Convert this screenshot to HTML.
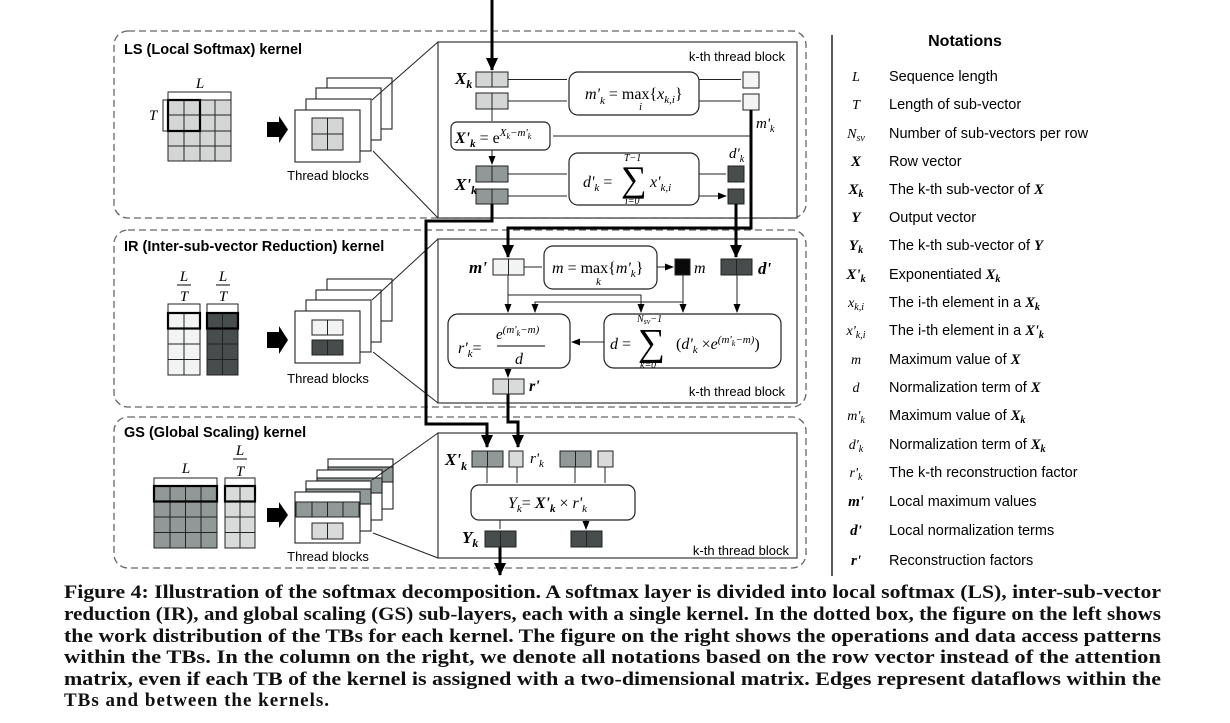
<!DOCTYPE html>
<html><head><meta charset="utf-8"><style>
html,body{margin:0;padding:0;background:#fff;}
svg{display:block;}
.s{font-family:"Liberation Sans",sans-serif;}
.m{font-family:"Liberation Serif",serif;font-style:italic;}
.b{font-weight:bold;}
</style></head><body>
<svg width="1230" height="723" viewBox="0 0 1230 723" xmlns="http://www.w3.org/2000/svg">
<defs>
<marker id="a" markerWidth="9" markerHeight="9" refX="8" refY="4.5" orient="auto" markerUnits="userSpaceOnUse"><path d="M0,1 L9,4.5 L0,8 Z" fill="#000"/></marker>
<marker id="A" markerWidth="14" markerHeight="14" refX="12" refY="7" orient="auto" markerUnits="userSpaceOnUse"><path d="M0,1 L13,7 L0,13 Z" fill="#000"/></marker>
</defs>
<g fill="none" stroke="#666" stroke-width="1.3" stroke-dasharray="7,4">
<rect x="114" y="31" width="692" height="187" rx="14"/>
<rect x="114" y="230" width="692" height="177" rx="14"/>
<rect x="114" y="417" width="692" height="151" rx="14"/>
</g>
<g class="s b" font-size="14.5" fill="#000">
<text x="124" y="54">LS (Local Softmax) kernel</text>
<text x="124" y="251">IR (Inter-sub-vector Reduction) kernel</text>
<text x="124" y="437">GS (Global Scaling) kernel</text>
</g>
<g fill="#fff" stroke="#444" stroke-width="1.3">
<rect x="438" y="42" width="359" height="176"/>
<rect x="438" y="239" width="359" height="164"/>
<rect x="438" y="433" width="359" height="125"/>
</g>
<g class="s" font-size="13" fill="#000">
<text x="785" y="61" text-anchor="end">k-th thread block</text>
<text x="785" y="396" text-anchor="end">k-th thread block</text>
<text x="789" y="555" text-anchor="end">k-th thread block</text>
<text x="328" y="180" text-anchor="middle">Thread blocks</text>
<text x="328" y="383" text-anchor="middle">Thread blocks</text>
<text x="328" y="561" text-anchor="middle">Thread blocks</text>
</g>

<!-- LS left -->
<g stroke="#222" stroke-width="1">
<rect x="168" y="100" width="63" height="61" fill="#d4d6d6"/>
<path d="M184,100V161M200,100V161M215,100V161M168,115H231M168,131H231M168,146H231"/>
</g>
<rect x="168" y="100" width="32" height="31" fill="none" stroke="#000" stroke-width="2.2"/>
<path d="M168,100V92H231V100M168,100H163V131H168" fill="none" stroke="#222"/>
<text x="200" y="88" class="m" font-size="15" text-anchor="middle">L</text>
<text x="153" y="120" class="m" font-size="15" text-anchor="middle">T</text>
<path d="M267,122h12v-6l9,13.5-9,13.5v-6h-12z" fill="#000"/>
<g stroke="#222" stroke-width="1.1" fill="#fff">
<rect x="327" y="78" width="65" height="51"/>
<rect x="316" y="88" width="65" height="52"/>
<rect x="306" y="99" width="65" height="52"/>
<rect x="295" y="110" width="65" height="52"/>
</g>
<g stroke="#222" stroke-width="1"><rect x="312" y="118" width="31" height="32" fill="#d4d6d6"/><path d="M327.5,118V150M312,134H343"/></g>
<path d="M372,100L438,42M373,151L438,218" stroke="#222" stroke-width="1"/>

<!-- IR left -->
<path d="M168,313V304H200V313M207,313V304H238V313" fill="none" stroke="#222"/>
<g class="m" font-size="15" text-anchor="middle"><text x="184" y="281">L</text><text x="184" y="301">T</text><text x="223" y="281">L</text><text x="223" y="301">T</text></g>
<path d="M177,285h14M216,285h14" stroke="#000"/>
<g stroke="#222" stroke-width="1">
<rect x="168" y="313" width="32" height="62" fill="#f2f3f3"/><path d="M184,313V375M168,328.5H200M168,344H200M168,359.5H200"/>
<rect x="207" y="313" width="31" height="62" fill="#474c4c"/><path d="M222.5,313V375M207,328.5H238M207,344H238M207,359.5H238"/>
</g>
<rect x="168" y="313" width="32" height="15.5" fill="none" stroke="#000" stroke-width="2.2"/>
<rect x="207" y="313" width="31" height="15.5" fill="none" stroke="#000" stroke-width="2.2"/>
<path d="M267,332h12v-6l9,14-9,14v-6h-12z" fill="#000"/>
<g stroke="#222" stroke-width="1.1" fill="#fff">
<rect x="327" y="279" width="65" height="42"/>
<rect x="316" y="290" width="65" height="52"/>
<rect x="306" y="300" width="65" height="52"/>
<rect x="295" y="311" width="65" height="52"/>
</g>
<g stroke="#222" stroke-width="1">
<rect x="312" y="320" width="31" height="15" fill="#f2f3f3"/><path d="M327.5,320V335"/>
<rect x="312" y="340" width="31" height="15" fill="#474c4c"/><path d="M327.5,340V355"/>
</g>
<path d="M372,300L438,239M373,352L438,403" stroke="#222" stroke-width="1"/>

<!-- GS left -->
<path d="M154,486V478H217V486M225,486V478H255V486" fill="none" stroke="#222"/>
<text x="186" y="473" class="m" font-size="15" text-anchor="middle">L</text>
<g class="m" font-size="15" text-anchor="middle"><text x="240" y="455">L</text><text x="240" y="476">T</text></g>
<path d="M233,459h14" stroke="#000"/>
<g stroke="#222" stroke-width="1">
<rect x="154" y="486" width="63" height="62" fill="#919898"/><path d="M170,486V548M185.5,486V548M201,486V548M154,501.5H217M154,517H217M154,532.5H217"/>
<rect x="225" y="486" width="30" height="62" fill="#d9dbdb"/><path d="M240,486V548M225,501.5H255M225,517H255M225,532.5H255"/>
</g>
<rect x="154" y="486" width="63" height="15.5" fill="none" stroke="#000" stroke-width="2.2"/>
<rect x="225" y="486" width="30" height="15.5" fill="none" stroke="#000" stroke-width="2.2"/>
<path d="M267,508h12v-6l9,13-9,13v-6h-12z" fill="#000"/>
<g stroke="#222" stroke-width="1.1">
<rect x="328" y="459" width="65" height="50" fill="#fff"/><rect x="328" y="467" width="65" height="15" fill="#919898"/>
<rect x="317" y="470" width="65" height="50" fill="#fff"/><rect x="317" y="478" width="65" height="15" fill="#919898"/>
<rect x="306" y="481" width="65" height="50" fill="#fff"/><rect x="306" y="489" width="65" height="15" fill="#919898"/>
<rect x="295" y="492" width="65" height="51" fill="#fff"/>
</g>
<g stroke="#222" stroke-width="1">
<rect x="296" y="502" width="63" height="15" fill="#919898"/><path d="M312,502V517M327.5,502V517M343,502V517"/>
<rect x="312" y="523" width="31" height="16" fill="#d9dbdb"/><path d="M327.5,523V539"/>
</g>
<path d="M372,480L438,433M373,533L438,558" stroke="#222" stroke-width="1"/>

<!-- LS inner -->
<g stroke="#222" stroke-width="1">
<rect x="476" y="72" width="32" height="15" fill="#d4d6d6"/><path d="M492,72V87"/>
<rect x="476" y="93" width="32" height="16" fill="#d4d6d6"/><path d="M492,93V109"/>
<rect x="476" y="166" width="32" height="16" fill="#919898"/><path d="M492,166V182"/>
<rect x="476" y="189" width="32" height="15" fill="#919898"/><path d="M492,189V204"/>
<rect x="743" y="72" width="16" height="16" fill="#f4f4f4"/>
<rect x="743" y="94" width="16" height="16" fill="#f4f4f4"/>
<rect x="728" y="166" width="16" height="16" fill="#474c4c"/>
<rect x="728" y="189" width="16" height="15" fill="#474c4c"/>
</g>
<g fill="#fff" stroke="#222" stroke-width="1.2">
<rect x="569" y="72" width="130" height="43" rx="9"/>
<rect x="451" y="122" width="99" height="28" rx="6"/>
<rect x="569" y="153" width="130" height="52" rx="9"/>
</g>
<g stroke="#222" stroke-width="1" marker-end="url(#a)">
<path d="M508,79.5H567M508,101H567M699,79.5H741M699,101H741M508,174H567M508,196H567M699,174H726M699,196H726"/>
<path d="M751,136H553M492,109V121M492,150V164"/>
</g>
<path d="M492,0V70" stroke="#000" stroke-width="3" marker-end="url(#A)"/>
<g class="m" fill="#000">
<text x="455" y="84" font-size="17" class="b">X<tspan font-size="12" dy="4">k</tspan></text>
<text x="455" y="190" font-size="17" class="b">X'<tspan font-size="12" dy="4">k</tspan></text>
<text x="585" y="99" font-size="16">m'<tspan font-size="11" dy="5">k</tspan><tspan dy="-5" font-style="normal"> = max{</tspan>x<tspan font-size="11" dy="4">k,i</tspan><tspan dy="-4" font-style="normal">}</tspan></text>
<text x="639" y="110" font-size="11">i</text>
<text x="756" y="128" font-size="15">m'<tspan font-size="10" dy="4">k</tspan></text>
<text x="455" y="143" font-size="16"><tspan class="b">X'</tspan><tspan font-size="11" dy="4" class="b">k</tspan><tspan dy="-4" font-style="normal"> = e</tspan><tspan font-size="11" dy="-7">X</tspan><tspan font-size="8" dy="3">k</tspan><tspan font-size="11" dy="-3">−m'</tspan><tspan font-size="8" dy="3">k</tspan></text>
<text x="583" y="187" font-size="16">d'<tspan font-size="11" dy="4">k</tspan><tspan dy="-4" font-style="normal"> = </tspan></text>
<text x="621" y="191" font-size="36" font-style="normal">∑</text>
<text x="624" y="161" font-size="10">T−1</text>
<text x="625" y="204" font-size="10">i=0</text>
<text x="650" y="187" font-size="16">x'<tspan font-size="11" dy="4">k,i</tspan></text>
<text x="729" y="158" font-size="15">d'<tspan font-size="10" dy="4">k</tspan></text>
</g>

<!-- thick connectors -->
<g fill="none" stroke="#000" stroke-width="3">
<path d="M492,204V221H426V424H487V447" marker-end="url(#A)"/>
<path d="M751,110V228H508V257" marker-end="url(#A)"/>
<path d="M736,204V257" marker-end="url(#A)"/>
<path d="M508,394V422H518V447" marker-end="url(#A)"/>
<path d="M500,547V575" marker-end="url(#A)"/>
</g>

<!-- IR inner -->
<g stroke="#222" stroke-width="1">
<rect x="493" y="259" width="31" height="16" fill="#f2f3f3"/><path d="M508.5,259V275"/>
<rect x="675" y="259" width="15" height="16" fill="#0a0a0a"/>
<rect x="721" y="259" width="31" height="16" fill="#474c4c"/><path d="M736.5,259V275"/>
<rect x="493" y="379" width="31" height="15" fill="#d9dbdb"/><path d="M508.5,379V394"/>
</g>
<g fill="#fff" stroke="#222" stroke-width="1.2">
<rect x="544" y="246" width="113" height="43" rx="9"/>
<rect x="448" y="314" width="122" height="54" rx="10"/>
<rect x="604" y="314" width="177" height="54" rx="10"/>
</g>
<g stroke="#222" stroke-width="1" fill="none" marker-end="url(#a)">
<path d="M524,267H542M657,267H673"/>
<path d="M508,275V312"/>
<path d="M508,295H641V312"/>
<path d="M683,275V312"/>
<path d="M683,302H535V312"/>
<path d="M737,275V312"/>
<path d="M604,342H572"/>
<path d="M508,368V377"/>
</g>
<g class="m" fill="#000">
<text x="469" y="273" font-size="17" class="b">m'</text>
<text x="552" y="273" font-size="16">m<tspan font-style="normal"> = max{</tspan>m'<tspan font-size="11" dy="4">k</tspan><tspan dy="-4" font-style="normal">}</tspan></text>
<text x="596" y="285" font-size="11">k</text>
<text x="694" y="273" font-size="16">m</text>
<text x="758" y="274" font-size="17" class="b">d'</text>
<text x="458" y="353" font-size="16">r'<tspan font-size="11" dy="4">k</tspan><tspan dy="-4" font-style="normal">=</tspan></text>
<text x="496" y="339" font-size="15">e<tspan font-size="11" dy="-6">(m'</tspan><tspan font-size="8" dy="3">k</tspan><tspan font-size="11" dy="-3">−m)</tspan></text>
<path d="M497,346H545" stroke="#000" stroke-width="1"/>
<text x="515" y="364" font-size="16">d</text>
<text x="610" y="349" font-size="16">d<tspan font-style="normal"> = </tspan></text>
<text x="638" y="355" font-size="38" font-style="normal">∑</text>
<text x="637" y="322" font-size="10">N<tspan font-size="8" dy="2">sv</tspan><tspan dy="-2">−1</tspan></text>
<text x="640" y="368" font-size="10">k=0</text>
<text x="676" y="349" font-size="16"><tspan font-style="normal">(</tspan>d'<tspan font-size="11" dy="4">k</tspan><tspan dy="-4" font-style="normal"> ×</tspan>e<tspan font-size="11" dy="-6">(m'</tspan><tspan font-size="8" dy="3">k</tspan><tspan font-size="11" dy="-3">−m)</tspan><tspan dy="6" font-style="normal">)</tspan></text>
<text x="529" y="391" font-size="16" class="b">r'</text>
</g>

<!-- GS inner -->
<g stroke="#222" stroke-width="1">
<rect x="472" y="451" width="31" height="16" fill="#919898"/><path d="M487.5,451V467"/>
<rect x="509" y="451" width="14" height="16" fill="#d9dbdb"/>
<rect x="560" y="451" width="31" height="16" fill="#919898"/><path d="M575.5,451V467"/>
<rect x="598" y="451" width="15" height="16" fill="#d9dbdb"/>
<rect x="485" y="531" width="31" height="16" fill="#474c4c"/><path d="M500.5,531V547"/>
<rect x="571" y="531" width="31" height="16" fill="#474c4c"/><path d="M586.5,531V547"/>
</g>
<rect x="471" y="485" width="164" height="35" rx="8" fill="#fff" stroke="#222" stroke-width="1.2"/>
<g stroke="#222" stroke-width="1" marker-end="url(#a)">
<path d="M487,467V483M517,467V483M575,467V483M605,467V483M500,520V529M586,520V529"/>
</g>
<g class="m" fill="#000">
<text x="445" y="465" font-size="17" class="b">X'<tspan font-size="12" dy="5">k</tspan></text>
<text x="530" y="463" font-size="15">r'<tspan font-size="11" dy="4">k</tspan></text>
<text x="508" y="508" font-size="16">Y<tspan font-size="11" dy="4">k</tspan><tspan dy="-4" font-style="normal">= </tspan><tspan class="b">X'</tspan><tspan font-size="11" dy="4" class="b">k</tspan><tspan dy="-4" font-style="normal"> × </tspan>r'<tspan font-size="11" dy="4">k</tspan></text>
<text x="462" y="543" font-size="17" class="b">Y<tspan font-size="12" dy="4">k</tspan></text>
</g>

<!-- Notations -->
<path d="M832,35V576" stroke="#000" stroke-width="1.3"/>
<text x="965" y="46" class="s b" font-size="16" text-anchor="middle">Notations</text>
<g class="m" font-size="14" text-anchor="middle" fill="#000">
<text x="856" y="81">L</text>
<text x="856" y="109">T</text>
<text x="856" y="138">N<tspan font-size="10" dy="3">sv</tspan></text>
<text x="856" y="166" class="b" font-size="15">X</text>
<text x="856" y="194" class="b" font-size="15">X<tspan font-size="10" dy="3">k</tspan></text>
<text x="856" y="222" class="b" font-size="15">Y</text>
<text x="856" y="250" class="b" font-size="15">Y<tspan font-size="10" dy="3">k</tspan></text>
<text x="856" y="279" class="b" font-size="15">X'<tspan font-size="10" dy="3">k</tspan></text>
<text x="856" y="307">x<tspan font-size="10" dy="3">k,i</tspan></text>
<text x="856" y="335">x'<tspan font-size="10" dy="3">k,i</tspan></text>
<text x="856" y="364">m</text>
<text x="856" y="392">d</text>
<text x="856" y="420">m'<tspan font-size="10" dy="3">k</tspan></text>
<text x="856" y="449">d'<tspan font-size="10" dy="3">k</tspan></text>
<text x="856" y="477">r'<tspan font-size="10" dy="3">k</tspan></text>
<text x="856" y="506" class="b" font-size="15">m'</text>
<text x="856" y="535" class="b" font-size="15">d'</text>
<text x="856" y="565" class="b" font-size="15">r'</text>
</g>
<g class="s" font-size="14.5" fill="#000">
<text x="889" y="81">Sequence length</text>
<text x="889" y="109">Length of sub-vector</text>
<text x="889" y="138">Number of sub-vectors per row</text>
<text x="889" y="166">Row vector</text>
<text x="889" y="194">The k-th sub-vector of <tspan class="m b">X</tspan></text>
<text x="889" y="222">Output vector</text>
<text x="889" y="250">The k-th sub-vector of <tspan class="m b">Y</tspan></text>
<text x="889" y="279">Exponentiated <tspan class="m b">X<tspan font-size="10" dy="3">k</tspan></tspan></text>
<text x="889" y="307">The i-th element in a <tspan class="m b">X<tspan font-size="10" dy="3">k</tspan></tspan></text>
<text x="889" y="335">The i-th element in a <tspan class="m b">X'<tspan font-size="10" dy="3">k</tspan></tspan></text>
<text x="889" y="364">Maximum value of <tspan class="m b">X</tspan></text>
<text x="889" y="392">Normalization term of <tspan class="m b">X</tspan></text>
<text x="889" y="420">Maximum value of <tspan class="m b">X<tspan font-size="10" dy="3">k</tspan></tspan></text>
<text x="889" y="449">Normalization term of <tspan class="m b">X<tspan font-size="10" dy="3">k</tspan></tspan></text>
<text x="889" y="477">The k-th reconstruction factor</text>
<text x="889" y="506">Local maximum values</text>
<text x="889" y="535">Local normalization terms</text>
<text x="889" y="565">Reconstruction factors</text>
</g>

<!-- Caption -->
<g font-family="Liberation Serif,serif" font-weight="bold" font-size="19" fill="#111">
<text x="64" y="598" textLength="1097" lengthAdjust="spacingAndGlyphs">Figure 4:  Illustration of the softmax decomposition. A softmax layer is divided into local softmax (LS), inter-sub-vector</text>
<text x="64" y="620" textLength="1097" lengthAdjust="spacingAndGlyphs">reduction (IR), and global scaling (GS) sub-layers, each with a single kernel. In the dotted box, the figure on the left shows</text>
<text x="64" y="642" textLength="1097" lengthAdjust="spacingAndGlyphs">the work distribution of the TBs for each kernel. The figure on the right shows the operations and data access patterns</text>
<text x="64" y="663" textLength="1097" lengthAdjust="spacingAndGlyphs">within the TBs. In the column on the right, we denote all notations based on the row vector instead of the attention</text>
<text x="64" y="685" textLength="1097" lengthAdjust="spacingAndGlyphs">matrix, even if each TB of the kernel is assigned with a two-dimensional matrix. Edges represent dataflows within the</text>
<text x="64" y="706" textLength="265" lengthAdjust="spacing">TBs and between the kernels.</text>
</g>
</svg>
</body></html>
